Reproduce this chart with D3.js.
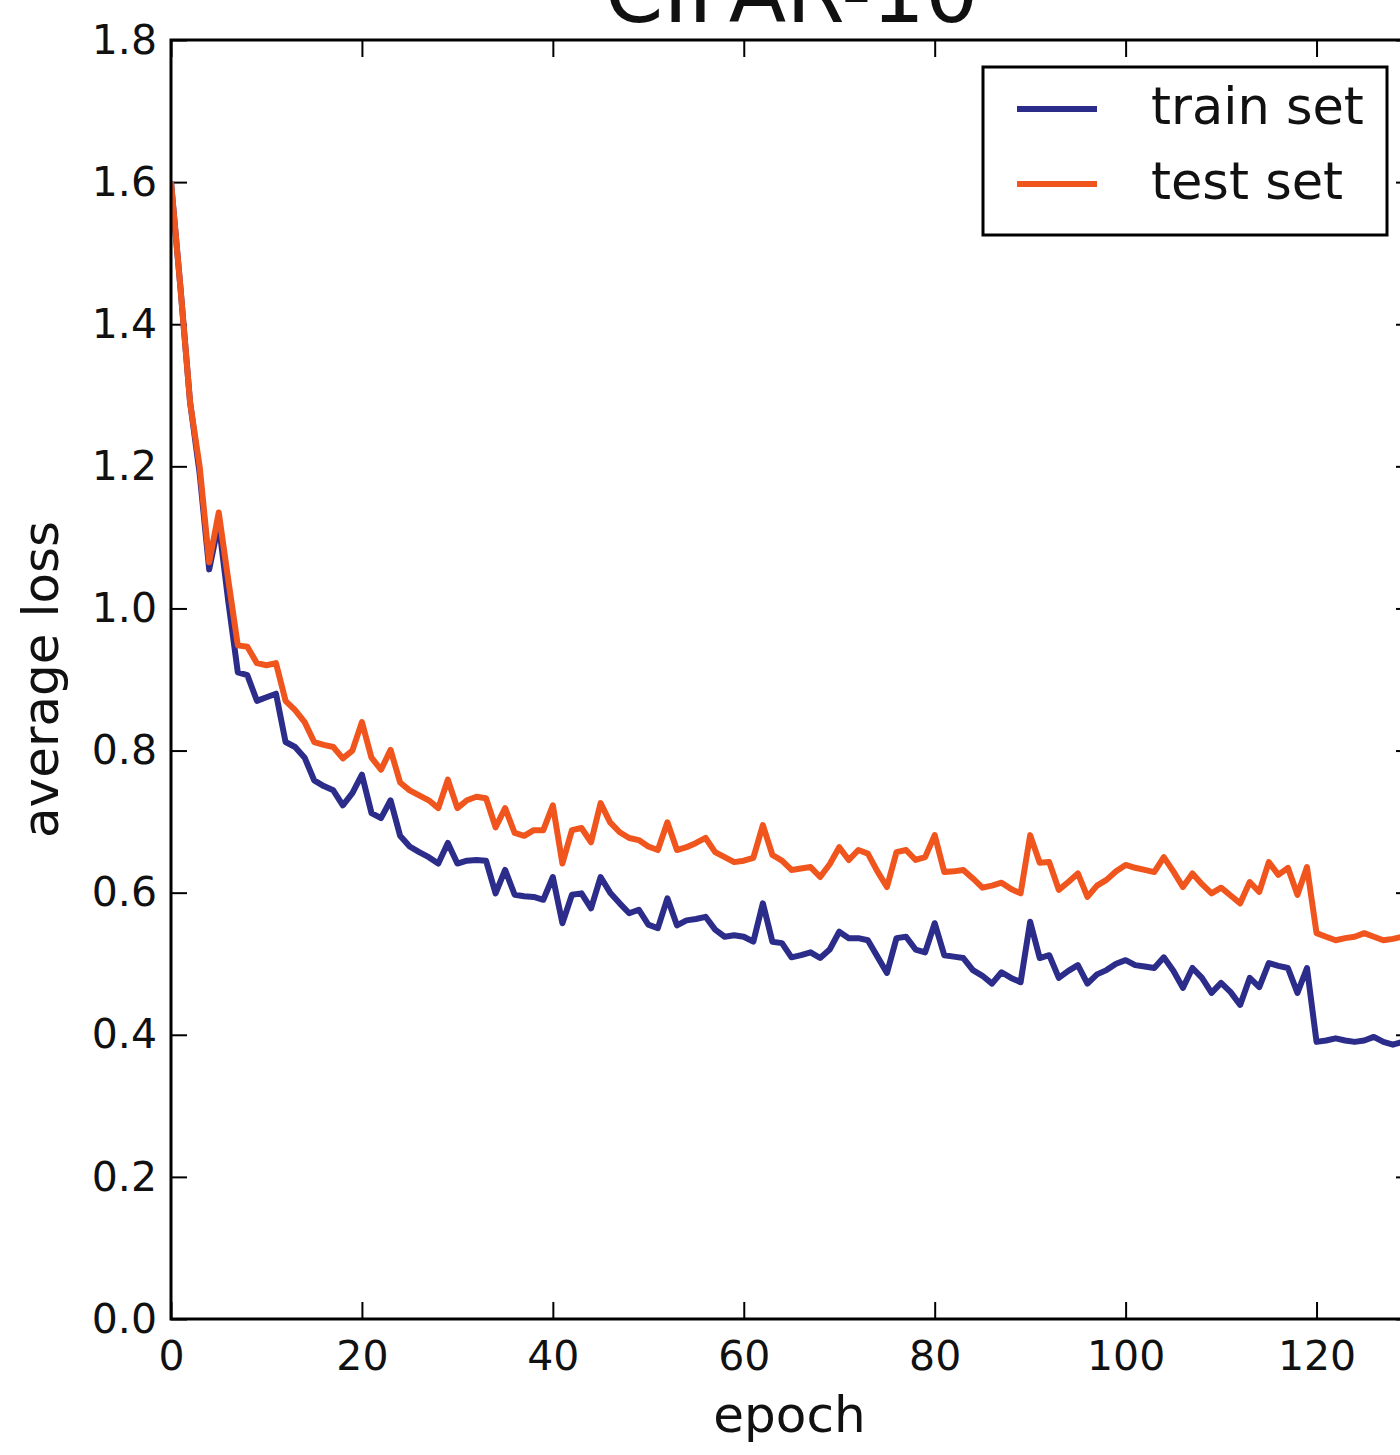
<!DOCTYPE html>
<html>
<head>
<meta charset="utf-8">
<script src="https://cdn.jsdelivr.net/npm/d3@7"></script>
<style>
  body { margin: 0; background: #fff; overflow: hidden; }
  svg { display: block; font-family: "DejaVu Sans", sans-serif; }
</style>
</head>
<body>
<div id="chart"></div>
<script>
// loss per epoch
var trainLoss = [1.60, 1.45, 1.29, 1.19, 1.055, 1.12, 1.01, 0.91, 0.906, 0.87,
  0.875, 0.88, 0.812, 0.805, 0.79, 0.758, 0.75, 0.744, 0.723, 0.74,
  0.766, 0.712, 0.705, 0.73, 0.68, 0.665, 0.657, 0.65, 0.641, 0.67,
  0.641, 0.645, 0.646, 0.645, 0.599, 0.632, 0.597, 0.595, 0.594, 0.59,
  0.622, 0.557, 0.597, 0.599, 0.578, 0.622, 0.6, 0.585, 0.571, 0.576,
  0.555, 0.55, 0.592, 0.554, 0.561, 0.563, 0.566, 0.548, 0.538, 0.54,
  0.538, 0.531, 0.585, 0.531, 0.529, 0.509, 0.512, 0.516, 0.508, 0.52,
  0.545, 0.536, 0.536, 0.533, 0.51, 0.487, 0.536, 0.538, 0.52, 0.516,
  0.557, 0.512, 0.51, 0.508, 0.491, 0.483, 0.472, 0.488, 0.48, 0.474,
  0.559, 0.508, 0.512, 0.48, 0.49, 0.498, 0.472, 0.485, 0.491, 0.5,
  0.505, 0.498, 0.496, 0.494, 0.509, 0.49, 0.466, 0.494, 0.48, 0.459,
  0.473, 0.46, 0.442, 0.48, 0.467, 0.501, 0.497, 0.494, 0.459, 0.494,
  0.39, 0.392, 0.395, 0.392, 0.39, 0.392, 0.397, 0.39, 0.386, 0.39, 0.39];

var testLoss = [1.60, 1.45, 1.29, 1.2, 1.065, 1.135, 1.04, 0.948, 0.946, 0.923,
  0.92, 0.923, 0.87, 0.857, 0.84, 0.812, 0.808, 0.805, 0.789, 0.8,
  0.84, 0.79, 0.773, 0.801, 0.755, 0.744, 0.737, 0.73, 0.719, 0.759,
  0.719, 0.73, 0.735, 0.733, 0.692, 0.719, 0.684, 0.68, 0.688, 0.688,
  0.723, 0.641, 0.688, 0.691, 0.671, 0.726, 0.699, 0.685, 0.677, 0.674,
  0.665, 0.66, 0.699, 0.66, 0.664, 0.67, 0.677, 0.657, 0.65, 0.643,
  0.645, 0.649, 0.695, 0.653, 0.645, 0.632, 0.634, 0.636, 0.622, 0.64,
  0.664, 0.646, 0.66, 0.655, 0.63, 0.608, 0.657, 0.66, 0.646, 0.65,
  0.681, 0.629, 0.63, 0.632, 0.62, 0.607, 0.61, 0.614, 0.605, 0.599,
  0.681, 0.642, 0.643, 0.604, 0.615, 0.627, 0.594, 0.61, 0.618, 0.63,
  0.639, 0.635, 0.632, 0.629, 0.65, 0.63, 0.608, 0.627, 0.612, 0.599,
  0.607, 0.596, 0.585, 0.615, 0.601, 0.643, 0.625, 0.635, 0.597, 0.636,
  0.543, 0.538, 0.533, 0.536, 0.538, 0.543, 0.538, 0.533, 0.535, 0.538, 0.538];

var xTicks = [0, 20, 40, 60, 80, 100, 120];
var yTicks = [0.0, 0.2, 0.4, 0.6, 0.8, 1.0, 1.2, 1.4, 1.6, 1.8];
var seriesNames = ["train set", "test set"];
var seriesColors = ["#2c2c8a", "#f0551e"];

var width = 1400, height = 1455;
// plot area (the right spine sits just past the picture edge)
var plotLeft = 171, plotTop = 40, plotBottom = 1319, plotRight = 1412;

var svg = d3.select("#chart").append("svg")
  .attr("width", width)
  .attr("height", height);

var x = d3.scaleLinear().domain([0, 130]).range([plotLeft, plotRight]);
var y = d3.scaleLinear().domain([0, 1.8]).range([plotBottom, plotTop]);

// clip for the lines
svg.append("clipPath").attr("id", "plotClip")
  .append("rect")
  .attr("x", plotLeft).attr("y", plotTop)
  .attr("width", plotRight - plotLeft).attr("height", plotBottom - plotTop);

// axes, ticks point inward like matplotlib classic
var xBottom = svg.append("g")
  .attr("transform", "translate(0," + plotBottom + ")")
  .call(d3.axisBottom(x).tickValues(xTicks).tickSize(-17).tickPadding(22)
    .tickFormat(d3.format("d")));
var xTop = svg.append("g")
  .attr("transform", "translate(0," + plotTop + ")")
  .call(d3.axisTop(x).tickValues(xTicks).tickSize(-17).tickFormat(""));
var yLeft = svg.append("g")
  .attr("transform", "translate(" + plotLeft + ",0)")
  .call(d3.axisLeft(y).tickValues(yTicks).tickSize(-16).tickPadding(14)
    .tickFormat(d3.format(".1f")));
var yRight = svg.append("g")
  .attr("transform", "translate(" + plotRight + ",0)")
  .call(d3.axisRight(y).tickValues(yTicks).tickSize(-16).tickFormat(""));

[xBottom, xTop, yLeft, yRight].forEach(function (g) {
  g.select(".domain").remove();
  g.selectAll(".tick line").attr("stroke", "#000").attr("stroke-width", 2);
  g.selectAll(".tick text")
    .attr("fill", "#111")
    .attr("font-size", "41px")
    .attr("font-family", "DejaVu Sans, sans-serif");
});

// lines
var line = d3.line()
  .x(function (d, i) { return x(i); })
  .y(function (d) { return y(d); });

var lineGroup = svg.append("g").attr("clip-path", "url(#plotClip)");
[trainLoss, testLoss].forEach(function (s, i) {
  lineGroup.append("path")
    .datum(s)
    .attr("d", line)
    .attr("fill", "none")
    .attr("stroke", seriesColors[i])
    .attr("stroke-width", 6)
    .attr("stroke-linejoin", "round");
});

// frame
svg.append("rect")
  .attr("x", plotLeft).attr("y", plotTop)
  .attr("width", plotRight - plotLeft).attr("height", plotBottom - plotTop)
  .attr("fill", "none")
  .attr("stroke", "#000")
  .attr("stroke-width", 3);

// title (cut by the top edge)
svg.append("text")
  .attr("x", (plotLeft + plotRight) / 2)
  .attr("y", 22)
  .attr("text-anchor", "middle")
  .attr("font-size", "84px")
  .attr("fill", "#111")
  .text("CIFAR-10");

// axis labels
svg.append("text")
  .attr("x", (plotLeft + plotRight) / 2 - 2)
  .attr("y", 1432)
  .attr("text-anchor", "middle")
  .attr("font-size", "50px")
  .attr("fill", "#111")
  .text("epoch");

svg.append("text")
  .attr("transform", "translate(58," + (plotTop + plotBottom) / 2 + ") rotate(-90)")
  .attr("text-anchor", "middle")
  .attr("font-size", "50px")
  .attr("fill", "#111")
  .text("average loss");

// legend
var legend = svg.append("g");
legend.append("rect")
  .attr("x", 983).attr("y", 67)
  .attr("width", 404).attr("height", 168)
  .attr("fill", "#fff")
  .attr("stroke", "#000")
  .attr("stroke-width", 3);

var items = legend.selectAll(".legend-item")
  .data(seriesNames)
  .enter().append("g")
  .attr("class", "legend-item")
  .attr("transform", function (d, i) { return "translate(0," + (i * 75) + ")"; });

items.append("line")
  .attr("x1", 1017).attr("x2", 1097)
  .attr("y1", 109).attr("y2", 109)
  .attr("stroke", function (d, i) { return seriesColors[i]; })
  .attr("stroke-width", 6);

items.append("text")
  .attr("x", 1151)
  .attr("y", 124)
  .attr("font-size", "51px")
  .attr("fill", "#111")
  .text(function (d) { return d; });
</script>
</body>
</html>
